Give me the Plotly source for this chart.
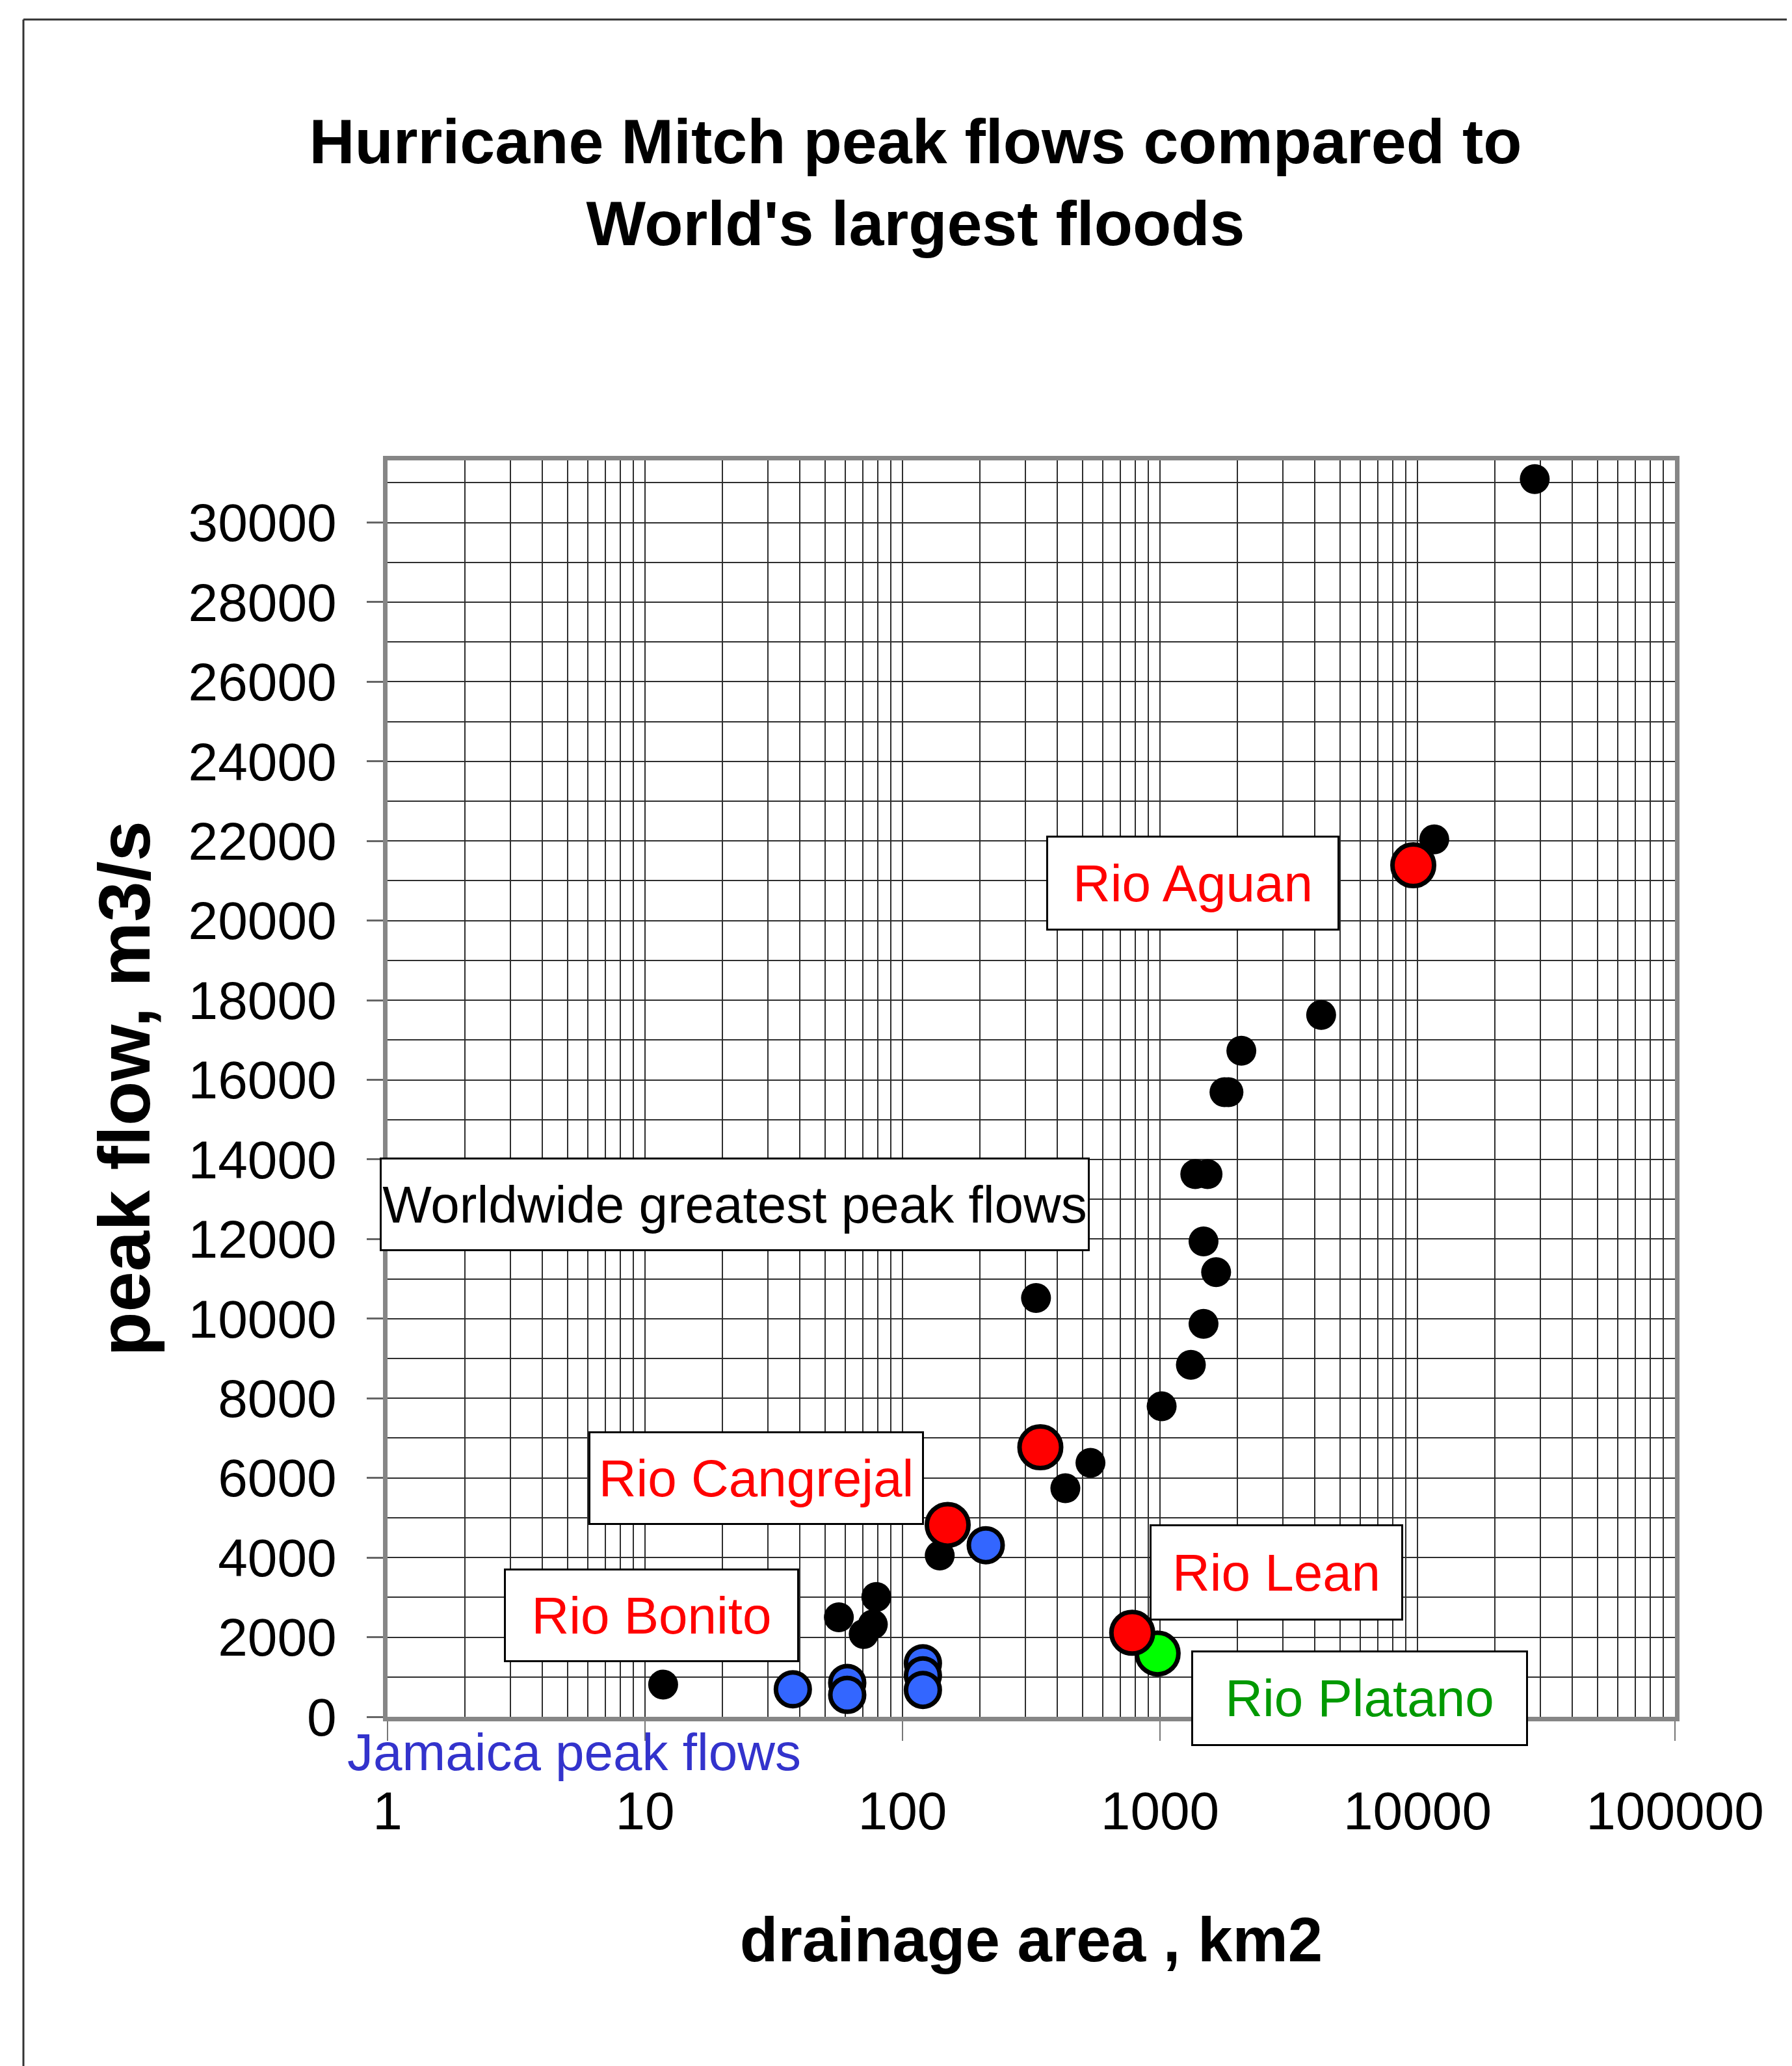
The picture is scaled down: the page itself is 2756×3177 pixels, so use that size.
import plotly.graph_objects as go

# ---------------- data ----------------
world_area = [28540, 11620, 4225, 2070, 1780, 1845, 1371, 1530, 1476, 1652,
              1476, 1318, 1015, 330, 537, 429, 139.5, 79.1, 56.6, 76.7, 70.7, 11.76]
world_flow = [31090, 22040, 17630, 16730, 15690, 15690, 13630, 13630, 11940, 11170,
              9870, 8840, 7800, 10520, 6380, 5740, 4050, 3010, 2500, 2320, 2080, 810]

mitch_area = [9630, 343, 149.8, 780]          # Rio Aguan, unlabeled, Rio Cangrejal, Rio Lean
mitch_flow = [21390, 6770, 4820, 2110]

platano_area = [979]
platano_flow = [1590]

jamaica_area = [37.5, 61, 61, 120, 120, 120, 210.5]
jamaica_flow = [690, 850, 550, 1345, 1040, 675, 4310]

y_tick_vals = list(range(0, 30001, 2000))
y_tick_text = [str(v) for v in y_tick_vals]
y_minor_vals = list(range(1000, 32000, 2000))
x_tick_vals = [1, 10, 100, 1000, 10000, 100000]
x_tick_text = ["1", "10", "100", "1000", "10000", "100000"]
x_minor_vals = [m * 10 ** d for d in range(5) for m in range(2, 10)]

title_text = "Hurricane Mitch peak flows compared to<br>World's largest floods"
x_title = "drainage area , km2"
y_title = "peak flow, m3/s"

FONT = "Liberation Sans, Arial, sans-serif"
GRID = "#2e2e2e"
FRAME = "#868686"

W, H = 2756, 3177
L, R, T, B = 588, 188, 700, 545
PW, PH = W - L - R, H - T - B


def px(xp):
    return (xp - L) / PW


def py(yp):
    return (H - B - yp) / PH


fig = go.Figure()

fig.add_trace(go.Scatter(x=world_area, y=world_flow, mode="markers",
                         marker=dict(size=46, color="black"),
                         name="Worldwide", showlegend=False))
fig.add_trace(go.Scatter(x=jamaica_area, y=jamaica_flow, mode="markers",
                         marker=dict(size=52, color="#3366FF", line=dict(color="black", width=7)),
                         name="Jamaica", showlegend=False))
fig.add_trace(go.Scatter(x=platano_area, y=platano_flow, mode="markers",
                         marker=dict(size=64, color="#00FF00", line=dict(color="black", width=7)),
                         name="Rio Platano", showlegend=False))
fig.add_trace(go.Scatter(x=mitch_area, y=mitch_flow, mode="markers",
                         marker=dict(size=64, color="#FF0000", line=dict(color="black", width=7)),
                         name="Hurricane Mitch", showlegend=False))

boxes = [
    ("Rio Aguan", "#FF0000", 1826, 1350, 445, 140),
    ("Worldwide greatest peak flows", "black", 1122, 1844, 1086, 138),
    ("Rio Cangrejal", "#FF0000", 1155, 2265, 510, 138),
    ("Rio Bonito", "#FF0000", 994, 2476, 448, 138),
    ("Rio Lean", "#FF0000", 1955, 2410, 384, 142),
    ("Rio Platano", "#009900", 2083, 2603, 512, 141),
]
for txt, col, cx, cy, bw, bh in boxes:
    fig.add_annotation(text=txt, xref="paper", yref="paper", x=px(cx), y=py(cy),
                       xanchor="center", yanchor="middle", showarrow=False,
                       width=bw, height=bh, align="center", valign="middle",
                       bgcolor="white", bordercolor="black", borderwidth=3, borderpad=0,
                       font=dict(family=FONT, size=80, color=col))

fig.add_annotation(text="Jamaica peak flows", xref="paper", yref="paper",
                   x=px(875), y=py(2686), xanchor="center", yanchor="middle",
                   showarrow=False, font=dict(family=FONT, size=80, color="#3333CC"))

# outer frame lines of the original page
fig.add_shape(type="line", xref="paper", yref="paper", x0=px(28), x1=px(W + 5),
              y0=py(22), y1=py(22), line=dict(color="#333333", width=3))
fig.add_shape(type="line", xref="paper", yref="paper", x0=px(28), x1=px(28),
              y0=py(22), y1=py(H + 5), line=dict(color="#333333", width=3))

fig.update_layout(
    width=W, height=H,
    margin=dict(l=L, r=R, t=T, b=B),
    paper_bgcolor="white", plot_bgcolor="white",
    title=dict(text=title_text, x=1400 / W, xref="container", xanchor="center",
               y=1 - 243 / H, yref="container", yanchor="middle",
               font=dict(family=FONT, size=97, color="black", weight="bold")),
    xaxis=dict(type="log", range=[0, 5], tickmode="array", tickvals=x_tick_vals,
               ticktext=x_tick_text, ticks="outside", ticklen=30, tickwidth=2,
               tickcolor="#777777", ticklabelstandoff=38,
               tickfont=dict(family=FONT, size=82, color="black"),
               showgrid=True, gridcolor=GRID, gridwidth=1.6,
               minor=dict(tickmode="array", tickvals=x_minor_vals, showgrid=True,
                          gridcolor=GRID, gridwidth=1.6, ticks=""),
               showline=True, linecolor=FRAME, linewidth=7, mirror=True,
               zeroline=False,
               title=dict(text=x_title, standoff=122,
                          font=dict(family=FONT, size=96, color="black", weight="bold"))),
    yaxis=dict(range=[0, 31560], tickmode="array", tickvals=y_tick_vals,
               ticktext=y_tick_text,
               ticks="outside", ticklen=25, tickwidth=3, tickcolor="#666666",
               ticklabelstandoff=30,
               tickfont=dict(family=FONT, size=82, color="black"),
               showgrid=True, gridcolor=GRID, gridwidth=1.6,
               minor=dict(tickmode="array", tickvals=y_minor_vals, showgrid=True,
                          gridcolor=GRID, gridwidth=1.6, ticks=""),
               showline=True, linecolor=FRAME, linewidth=7, mirror=True,
               zeroline=False,
               title=dict(text=y_title, standoff=24,
                          font=dict(family=FONT, size=112, color="black", weight="bold"))),
)

fig.write_html("out.html")
